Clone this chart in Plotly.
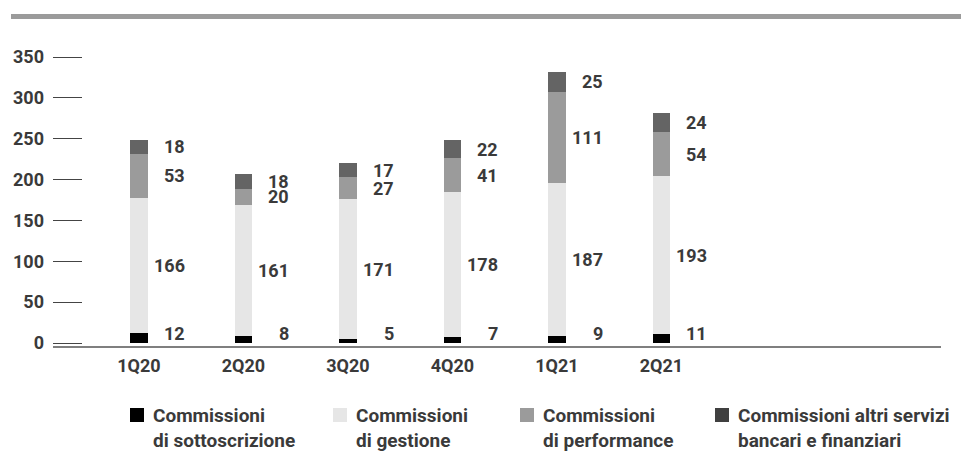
import plotly.graph_objects as go

quarters = ["1Q20", "2Q20", "3Q20", "4Q20", "1Q21", "2Q21"]
sottoscrizione = [12, 8, 5, 7, 9, 11]
gestione = [166, 161, 171, 178, 187, 193]
performance = [53, 20, 27, 41, 111, 54]
altri_servizi = [18, 18, 17, 22, 25, 24]

series_names = [
    "Commissioni<br>di sottoscrizione",
    "Commissioni<br>di gestione",
    "Commissioni<br>di performance",
    "Commissioni altri servizi<br>bancari e finanziari",
]
series_values = [sottoscrizione, gestione, performance, altri_servizi]
series_colors = ["#000000", "#e6e6e6", "#9b9b9b", "#646464"]
legend_colors = ["#000000", "#e6e6e6", "#9b9b9b", "#404040"]
legend_x = [130, 333, 520, 715]  # left edge of legend squares, px

FONT = "Roboto"
TEXT = "#3a3a3a"
SIZE = 18

# plot area in pixels: x 53..941, y 40..347
L, R, T, B = 53, 20, 40, 126
W, H = 961, 473
PW, PH = W - L - R, H - T - B


def px_x(x):
    return (x - L) / PW


def px_y(y):
    return (H - B - y) / PH


fig = go.Figure()
for name, vals, color in zip(series_names, series_values, series_colors):
    fig.add_trace(go.Bar(
        x=quarters, y=vals, name=name, width=0.163,
        marker=dict(color=color, line=dict(width=0)),
        hoverinfo="skip", showlegend=False,
    ))

# value labels to the right of each bar, at the middle of each segment
for i, q in enumerate(quarters):
    base = 0
    for k, vals in enumerate(series_values):
        v = vals[i]
        mid = base + v / 2
        if k == 0:
            mid = max(mid, 12)
        fig.add_annotation(
            x=q, y=mid, xref="x", yref="y", text=f"<b>{v}</b>",
            showarrow=False, xanchor="right", yanchor="middle", xshift=48,
            font=dict(family=FONT, size=SIZE, color=TEXT),
        )
        base += v

# legend drawn below the chart
for x0, name, color in zip(legend_x, series_names, legend_colors):
    fig.add_shape(type="rect", xref="paper", yref="paper",
                  x0=px_x(x0), x1=px_x(x0 + 14), y0=px_y(422), y1=px_y(408),
                  fillcolor=color, line=dict(width=0))
    fig.add_annotation(
        x=px_x(x0 + 21), y=px_y(402), xref="paper", yref="paper",
        text=f"<b>{name}</b>", showarrow=False, xanchor="left", yanchor="top",
        align="left", font=dict(family=FONT, size=19, color=TEXT),
    )

# grey band at top
fig.add_shape(type="rect", xref="paper", yref="paper",
              x0=px_x(11), x1=px_x(961), y0=px_y(19), y1=px_y(14),
              fillcolor="#9b9b9b", line=dict(width=0))
# baseline
fig.add_shape(type="line", xref="paper", yref="paper",
              x0=0, x1=1, y0=0, y1=0, line=dict(color="#555555", width=1.5))

fig.update_layout(
    width=W, height=H,
    margin=dict(l=L, r=R, t=T, b=B),
    plot_bgcolor="white", paper_bgcolor="white",
    barmode="stack",
    font=dict(family=FONT, size=SIZE, color=TEXT),
    showlegend=False,
    xaxis=dict(
        range=[-0.823, 7.675], showgrid=False, showline=False, ticks="",
        ticklabelstandoff=6,
        tickfont=dict(family=FONT, size=SIZE, color=TEXT, weight="bold"),
        fixedrange=True,
    ),
    yaxis=dict(
        range=[-4.9, 370.8], tickvals=[0, 50, 100, 150, 200, 250, 300, 350],
        showgrid=False, zeroline=False, showline=False,
        ticks="inside", ticklen=29, tickwidth=1, tickcolor="#444444",
        ticklabelstandoff=8,
        tickfont=dict(family=FONT, size=SIZE, color=TEXT, weight="bold"),
        fixedrange=True,
    ),
)

fig.write_html("out.html", config={"displayModeBar": False},
               post_script="document.body.style.margin='0';")
